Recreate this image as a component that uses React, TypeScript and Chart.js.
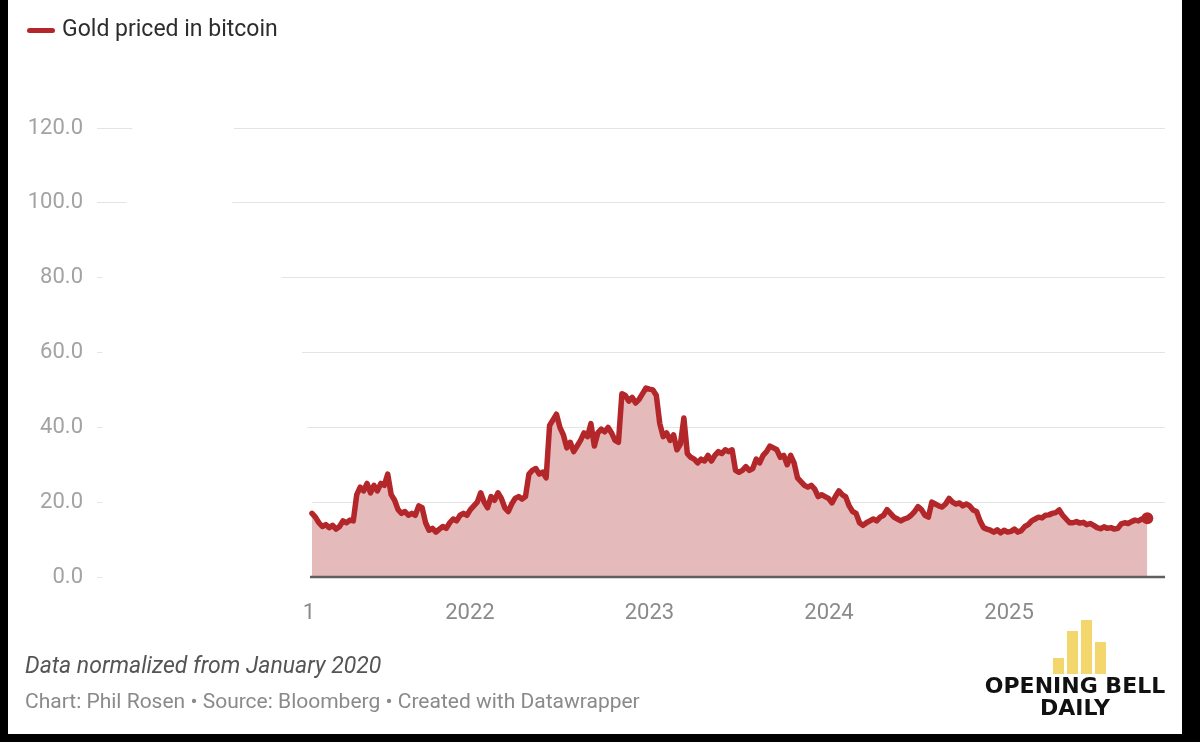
import React, { useEffect, useRef } from "react";
import { Chart, registerables } from "chart.js";

Chart.register(...registerables);

const SERIES_LABEL = "Gold priced in bitcoin";
const NOTE = "Data normalized from January 2020";
const SOURCE = "Chart: Phil Rosen • Source: Bloomberg • Created with Datawrapper";
const YEAR_TICKS = [2021, 2022, 2023, 2024, 2025];
const Y_MIN = 0;
const Y_MAX = 120;
const Y_STEP = 20;

const DATES_2021 = [
  "2021-02-14", "2021-02-21", "2021-02-28", "2021-03-07", "2021-03-14", "2021-03-21", "2021-03-28",
  "2021-04-04", "2021-04-11", "2021-04-18", "2021-04-25", "2021-05-02", "2021-05-09", "2021-05-16",
  "2021-05-23", "2021-05-30", "2021-06-06", "2021-06-13", "2021-06-20", "2021-06-27", "2021-07-04",
  "2021-07-11", "2021-07-18", "2021-07-25", "2021-08-01", "2021-08-08", "2021-08-15", "2021-08-22",
  "2021-08-29", "2021-09-05", "2021-09-12", "2021-09-19", "2021-09-26", "2021-10-03", "2021-10-10",
  "2021-10-17", "2021-10-24", "2021-10-31", "2021-11-07", "2021-11-14", "2021-11-21", "2021-11-28",
  "2021-12-05", "2021-12-12", "2021-12-19", "2021-12-26",
];
const VALUES_2021 = [
  17.0, 16.0, 14.5, 13.5, 14.0, 13.2, 13.8, 12.8, 13.5, 15.0, 14.5, 15.2, 15.0, 22.0, 24.0, 23.0,
  25.0, 22.5, 24.5, 23.0, 25.0, 24.5, 27.5, 22.0, 20.5, 18.0, 17.0, 17.5, 16.5, 17.0, 16.5, 19.0,
  18.5, 14.5, 12.5, 13.0, 12.0, 12.8, 13.5, 13.0, 14.5, 15.5, 15.0, 16.5, 17.0, 16.5,
];

const DATES_2022 = [
  "2022-01-02", "2022-01-09", "2022-01-16", "2022-01-23", "2022-01-30", "2022-02-06", "2022-02-13",
  "2022-02-20", "2022-02-27", "2022-03-06", "2022-03-13", "2022-03-20", "2022-03-27", "2022-04-03",
  "2022-04-10", "2022-04-17", "2022-04-24", "2022-05-01", "2022-05-08", "2022-05-15", "2022-05-22",
  "2022-05-29", "2022-06-05", "2022-06-12", "2022-06-19", "2022-06-26", "2022-07-03", "2022-07-10",
  "2022-07-17", "2022-07-24", "2022-07-31", "2022-08-07", "2022-08-14", "2022-08-21", "2022-08-28",
  "2022-09-04", "2022-09-11", "2022-09-18", "2022-09-25", "2022-10-02", "2022-10-09", "2022-10-16",
  "2022-10-23", "2022-10-30", "2022-11-06", "2022-11-13", "2022-11-20", "2022-11-27", "2022-12-04",
  "2022-12-11", "2022-12-18", "2022-12-25",
];
const VALUES_2022 = [
  18.0, 19.0, 20.0, 22.5, 20.0, 18.5, 21.5, 20.5, 22.5, 21.0, 18.5, 17.5, 19.5, 21.0, 21.5, 20.8,
  21.5, 27.5, 28.5, 29.0, 27.5, 28.0, 26.5, 40.5, 42.0, 43.5, 40.0, 38.0, 34.5, 36.0, 33.5, 35.0,
  36.5, 38.5, 37.5, 41.0, 35.0, 38.5, 39.5, 38.8, 40.0, 38.5, 36.5, 36.0, 49.0, 48.5, 47.0, 48.0,
  46.5, 47.5, 49.0, 50.5,
];

const DATES_2023 = [
  "2023-01-01", "2023-01-08", "2023-01-15", "2023-01-22", "2023-01-29", "2023-02-05", "2023-02-12",
  "2023-02-19", "2023-02-26", "2023-03-05", "2023-03-12", "2023-03-19", "2023-03-26", "2023-04-02",
  "2023-04-09", "2023-04-16", "2023-04-23", "2023-04-30", "2023-05-07", "2023-05-14", "2023-05-21",
  "2023-05-28", "2023-06-04", "2023-06-11", "2023-06-18", "2023-06-25", "2023-07-02", "2023-07-09",
  "2023-07-16", "2023-07-23", "2023-07-30", "2023-08-06", "2023-08-13", "2023-08-20", "2023-08-27",
  "2023-09-03", "2023-09-10", "2023-09-17", "2023-09-24", "2023-10-01", "2023-10-08", "2023-10-15",
  "2023-10-22", "2023-10-29", "2023-11-05", "2023-11-12", "2023-11-19", "2023-11-26", "2023-12-03",
  "2023-12-10", "2023-12-17", "2023-12-24", "2023-12-31",
];
const VALUES_2023 = [
  50.2, 50.0, 48.5, 41.0, 37.5, 38.5, 36.5, 38.0, 34.0, 35.5, 42.5, 33.0, 32.0, 31.5, 30.5, 31.5,
  31.0, 32.5, 31.0, 32.5, 33.5, 33.0, 34.0, 33.5, 34.0, 28.5, 28.0, 28.5, 29.5, 28.5, 29.0, 31.5,
  30.5, 32.5, 33.5, 35.0, 34.5, 34.0, 32.0, 32.5, 30.0, 32.5, 30.5, 26.5, 25.5, 24.5, 24.0, 24.5,
  23.5, 21.5, 22.0, 21.5, 21.0,
];

const DATES_2024 = [
  "2024-01-07", "2024-01-14", "2024-01-21", "2024-01-28", "2024-02-04", "2024-02-11", "2024-02-18",
  "2024-02-25", "2024-03-03", "2024-03-10", "2024-03-17", "2024-03-24", "2024-03-31", "2024-04-07",
  "2024-04-14", "2024-04-21", "2024-04-28", "2024-05-05", "2024-05-12", "2024-05-19", "2024-05-26",
  "2024-06-02", "2024-06-09", "2024-06-16", "2024-06-23", "2024-06-30", "2024-07-07", "2024-07-14",
  "2024-07-21", "2024-07-28", "2024-08-04", "2024-08-11", "2024-08-18", "2024-08-25", "2024-09-01",
  "2024-09-08", "2024-09-15", "2024-09-22", "2024-09-29", "2024-10-06", "2024-10-13", "2024-10-20",
  "2024-10-27", "2024-11-03", "2024-11-10", "2024-11-17", "2024-11-24", "2024-12-01", "2024-12-08",
  "2024-12-15", "2024-12-22", "2024-12-29",
];
const VALUES_2024 = [
  19.8, 21.5, 23.0, 22.0, 21.4, 19.0, 17.5, 17.0, 14.5, 13.8, 14.5, 15.0, 15.5, 15.0, 16.0, 16.5,
  18.0, 17.0, 16.0, 15.5, 15.0, 15.5, 15.8, 16.5, 17.5, 18.8, 18.0, 16.5, 16.0, 20.0, 19.5, 19.0,
  18.7, 19.5, 21.0, 20.0, 19.5, 19.8, 19.0, 19.5, 19.0, 17.9, 17.5, 15.0, 13.2, 12.8, 12.5, 12.0,
  12.6, 11.8, 12.5, 12.0,
];

const DATES_2025 = [
  "2025-01-05", "2025-01-12", "2025-01-19", "2025-01-26", "2025-02-02", "2025-02-09", "2025-02-16",
  "2025-02-23", "2025-03-02", "2025-03-09", "2025-03-16", "2025-03-23", "2025-03-30", "2025-04-06",
  "2025-04-13", "2025-04-20", "2025-04-27", "2025-05-04", "2025-05-11", "2025-05-18", "2025-05-25",
  "2025-06-01", "2025-06-08", "2025-06-15", "2025-06-22", "2025-06-29", "2025-07-06", "2025-07-13",
  "2025-07-20", "2025-07-27", "2025-08-03", "2025-08-10", "2025-08-17", "2025-08-24", "2025-08-31",
  "2025-09-07", "2025-09-14", "2025-09-21", "2025-09-28", "2025-10-09",
];
const VALUES_2025 = [
  12.2, 12.8, 12.0, 12.4, 13.5, 14.0, 15.0, 15.5, 16.0, 15.8, 16.5, 16.6, 17.0, 17.2, 17.9, 16.5,
  15.5, 14.5, 14.5, 14.8, 14.4, 14.6, 14.0, 14.3, 13.8, 13.2, 12.9, 13.4, 13.0, 13.2, 12.8, 13.0,
  14.2, 14.5, 14.3, 14.8, 15.2, 15.0, 15.5, 15.7,
];

const ALL_DATES = [...DATES_2021, ...DATES_2022, ...DATES_2023, ...DATES_2024, ...DATES_2025];
const ALL_VALUES = [...VALUES_2021, ...VALUES_2022, ...VALUES_2023, ...VALUES_2024, ...VALUES_2025];

const LINE_COLOR = "#b3272b";
const FILL_COLOR = "#e4baba";
const FONT = "Roboto, 'Noto Sans', sans-serif";

const ts = (d: string) => Date.parse(d + "T00:00:00Z");

// Areas of the original picture that were wiped out (left part of the chart)
const GRID_WIPES = [
  { level: 120, from: "2020-02-15", to: "2020-09-08" },
  { level: 100, from: "2020-02-03", to: "2020-09-05" },
  { level: 80, from: "2019-12-16", to: "2020-12-14" },
  { level: 60, from: "2019-12-16", to: "2021-01-25" },
  { level: 40, from: "2019-12-16", to: "2021-02-04" },
  { level: 20, from: "2019-12-16", to: "2021-02-14" },
  { level: 0, from: "2019-12-16", to: "2021-02-11" },
];
const LABEL_WIPE = { from: "2020-10-29", to: "2021-01-27" };

const wipePlugin = {
  id: "wipe",
  beforeDatasetsDraw(chart: any) {
    const { ctx, scales, chartArea } = chart;
    const xs = scales.x;
    const ys = scales.y;
    ctx.save();
    ctx.fillStyle = "#ffffff";
    GRID_WIPES.forEach((w) => {
      const x0 = xs.getPixelForValue(ts(w.from));
      const x1 = xs.getPixelForValue(ts(w.to));
      const y = ys.getPixelForValue(w.level);
      ctx.fillRect(x0, y - 3, x1 - x0, 6);
    });
    const lx0 = xs.getPixelForValue(ts(LABEL_WIPE.from));
    const lx1 = xs.getPixelForValue(ts(LABEL_WIPE.to));
    ctx.fillRect(lx0, chartArea.bottom + 4, lx1 - lx0, 45);
    ctx.restore();
  },
  afterDatasetsDraw(chart: any) {
    const { ctx, scales, chartArea } = chart;
    const x0 = scales.x.getPixelForValue(ts(ALL_DATES[0])) - 2;
    const y = scales.y.getPixelForValue(0);
    ctx.save();
    ctx.strokeStyle = "#5f5f5f";
    ctx.lineWidth = 2.5;
    ctx.beginPath();
    ctx.moveTo(x0, y);
    ctx.lineTo(chartArea.right, y);
    ctx.stroke();
    ctx.restore();
  },
};

function GoldChart() {
  const ref = useRef<HTMLCanvasElement | null>(null);
  useEffect(() => {
    if (!ref.current) return;
    const points = ALL_DATES.map((d, i) => ({ x: ts(d), y: ALL_VALUES[i] }));
    const last = points.length - 1;
    const chart = new Chart(ref.current, {
      type: "line",
      data: {
        datasets: [
          {
            label: SERIES_LABEL,
            data: points,
            borderColor: LINE_COLOR,
            backgroundColor: FILL_COLOR,
            fill: "origin",
            borderWidth: 5.5,
            borderJoinStyle: "round",
            borderCapStyle: "round",
            tension: 0,
            pointRadius: (c: any) => (c.dataIndex === last ? 6 : 0),
            pointBackgroundColor: LINE_COLOR,
            pointBorderWidth: 0,
          } as any,
        ],
      },
      options: {
        animation: false,
        responsive: false,
        maintainAspectRatio: false,
        layout: { padding: { left: 0, right: 35, top: 128, bottom: 0 } },
        plugins: { legend: { display: false }, tooltip: { enabled: false } },
        scales: {
          x: {
            type: "linear",
            min: ts("2019-12-05"),
            max: ts("2025-11-14"),
            grid: { display: false },
            border: { display: false },
            afterBuildTicks: (s: any) => {
              s.ticks = YEAR_TICKS.map((y) => ({ value: Date.UTC(y, 0, 1) }));
            },
            afterFit: (s: any) => {
              s.height = 165;
            },
            ticks: {
              autoSkip: false,
              maxRotation: 0,
              padding: 15,
              color: "#8a8a8a",
              font: { family: FONT, size: 22 },
              callback: (v: any) => String(new Date(v).getUTCFullYear()),
            },
          },
          y: {
            min: Y_MIN,
            max: Y_MAX,
            grid: { color: "#e4e4e4", lineWidth: 1, drawTicks: false },
            border: { display: false },
            afterFit: (s: any) => {
              s.width = 97;
            },
            ticks: {
              stepSize: Y_STEP,
              padding: 14,
              color: "#a3a3a3",
              font: { family: FONT, size: 22 },
              callback: (v: any) => Number(v).toFixed(1),
            },
          },
        },
      } as any,
      plugins: [wipePlugin],
    });
    return () => chart.destroy();
  }, []);
  return (
    <canvas
      ref={ref}
      width={1200}
      height={742}
      style={{ position: "absolute", left: 0, top: 0, width: 1200, height: 742 }}
    />
  );
}

const LOGO_BARS = [
  { left: 1053, top: 658 },
  { left: 1067, top: 631 },
  { left: 1081, top: 620 },
  { left: 1095, top: 642 },
];

export default function App() {
  return (
    <div
      style={{
        position: "fixed",
        left: 0,
        top: 0,
        width: 1200,
        height: 742,
        background: "#ffffff",
        overflow: "hidden",
        fontFamily: FONT,
      }}
    >
      <GoldChart />
      <div
        style={{
          position: "absolute",
          left: 27,
          top: 28,
          width: 28,
          height: 5,
          borderRadius: 3,
          background: LINE_COLOR,
        }}
      />
      <div
        style={{
          position: "absolute",
          left: 62,
          top: 14,
          fontSize: 23,
          lineHeight: "30px",
          color: "#2d2d2d",
          whiteSpace: "nowrap",
        }}
      >
        {SERIES_LABEL}
      </div>
      <div
        style={{
          position: "absolute",
          left: 25,
          top: 651,
          fontSize: 23,
          lineHeight: "30px",
          fontStyle: "italic",
          color: "#555555",
          whiteSpace: "nowrap",
        }}
      >
        {NOTE}
      </div>
      <div
        style={{
          position: "absolute",
          left: 25,
          top: 687,
          fontSize: 21,
          lineHeight: "28px",
          color: "#8a8a8a",
          whiteSpace: "nowrap",
        }}
      >
        {SOURCE}
      </div>
      {LOGO_BARS.map((b, i) => (
        <div
          key={i}
          style={{
            position: "absolute",
            left: b.left,
            top: b.top,
            width: 11,
            height: 674 - b.top,
            background: "#f4d76c",
          }}
        />
      ))}
      <div
        style={{
          position: "absolute",
          left: 975,
          width: 200,
          top: 675,
          textAlign: "center",
          fontFamily: "'DejaVu Sans', sans-serif",
          fontWeight: 700,
          fontSize: 22,
          lineHeight: "22px",
          color: "#111111",
          whiteSpace: "nowrap",
        }}
      >
        <div>OPENING BELL</div>
        <div>DAILY</div>
      </div>
      <div style={{ position: "absolute", left: 0, top: 0, width: 8, height: 742, background: "#000" }} />
      <div style={{ position: "absolute", left: 1182, top: 0, width: 18, height: 742, background: "#000" }} />
      <div style={{ position: "absolute", left: 0, top: 734, width: 1200, height: 8, background: "#000" }} />
    </div>
  );
}
